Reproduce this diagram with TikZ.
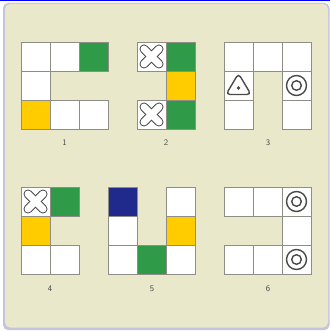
\documentclass[tikz,border=0pt]{standalone}
\usetikzlibrary{calc}
\definecolor{bgbeige}{HTML}{E9E8CB}
\definecolor{bglav}{HTML}{C8C2E2}
\definecolor{cgreen}{HTML}{2F9A48}
\definecolor{cyellow}{HTML}{FFCC00}
\definecolor{cblue}{HTML}{1F2A8C}
\definecolor{cborder}{HTML}{8E8E86}
\definecolor{iconc}{HTML}{4A4A4A}
\tikzset{
  cellbox/.style={draw=cborder, line width=0.8pt, fill=#1, minimum size=29pt,
    inner sep=0pt, outer sep=0pt, anchor=north west, rectangle},
  cellbox/.default=white,
  lbl/.style={font=\sffamily\fontsize{8.5}{9}\selectfont, text=black!70, inner sep=0pt},
  xout/.style={line width=9pt, line cap=round, draw=iconc},
  xin/.style={line width=7pt, line cap=round, draw=white},
  icon/.style={draw=iconc, line width=1.4pt}
}
\newcommand{\cellat}[4]{%
  \fill[black!25] (#2+1.2,#3+1.2) rectangle ++(29,29);
  \node[cellbox=#4] (#1) at (#2,#3) {};}
\newcommand{\xmark}[1]{%
  \draw[xout] ($(#1)+(-7.5,-7.5)$) -- ($(#1)+(7.5,7.5)$);
  \draw[xout] ($(#1)+(-7.5,7.5)$) -- ($(#1)+(7.5,-7.5)$);
  \draw[xin] ($(#1)+(-7.5,-7.5)$) -- ($(#1)+(7.5,7.5)$);
  \draw[xin] ($(#1)+(-7.5,7.5)$) -- ($(#1)+(7.5,-7.5)$);}
\newcommand{\target}[1]{%
  \draw[icon] (#1) circle (10);
  \draw[icon] (#1) circle (4.8);}
\begin{document}
\begin{tikzpicture}[x=1pt,y=-1pt]
\useasboundingbox (0,0) rectangle (330,331);
\fill[white] (0,0) rectangle (330,331);
\draw[blue, line width=1pt] (0,0.5) -- (330,0.5);
\fill[bglav, rounded corners=5pt] (3,3) rectangle (329.5,330);
\fill[bgbeige, rounded corners=5pt] (5,4) rectangle (328,327.5);
% panel 1
\cellat{a1}{21}{42}{white}
\cellat{a2}{50}{42}{white}
\cellat{a3}{79}{42}{cgreen}
\cellat{a4}{21}{71}{white}
\cellat{a5}{21}{100}{cyellow}
\cellat{a6}{50}{100}{white}
\cellat{a7}{79}{100}{white}
\node[lbl] (l1) at (64.5,143) {1};
% panel 2
\cellat{b1}{137}{42}{white}
\cellat{b2}{166}{42}{cgreen}
\cellat{b3}{166}{71}{cyellow}
\cellat{b4}{137}{100}{white}
\cellat{b5}{166}{100}{cgreen}
\xmark{b1.center}
\xmark{b4.center}
\node[lbl] (l2) at (166,143) {2};
% panel 3
\cellat{c1}{224}{42}{white}
\cellat{c2}{253}{42}{white}
\cellat{c3}{282}{42}{white}
\cellat{c4}{224}{71}{white}
\cellat{c5}{282}{71}{white}
\cellat{c6}{224}{100}{white}
\cellat{c7}{282}{100}{white}
\draw[icon, rounded corners=4pt] ($(c4.center)+(0,-12)$) -- ($(c4.center)+(12.5,9)$) -- ($(c4.center)+(-12.5,9)$) -- cycle;
\fill[iconc] ($(c4.center)+(0,2.5)$) circle (1.8);
\target{c5.center}
\node[lbl] (l3) at (268,143) {3};
% panel 4
\cellat{d1}{21}{187}{white}
\cellat{d2}{50}{187}{cgreen}
\cellat{d3}{21}{216}{cyellow}
\cellat{d4}{21}{245}{white}
\cellat{d5}{50}{245}{white}
\xmark{d1.center}
\node[lbl] (l4) at (50,289) {4};
% panel 5
\cellat{e1}{108}{187}{cblue}
\cellat{e2}{166}{187}{white}
\cellat{e3}{108}{216}{white}
\cellat{e4}{166}{216}{cyellow}
\cellat{e5}{108}{245}{white}
\cellat{e6}{137}{245}{cgreen}
\cellat{e7}{166}{245}{white}
\node[lbl] (l5) at (152,289) {5};
% panel 6
\cellat{f1}{224}{187}{white}
\cellat{f2}{253}{187}{white}
\cellat{f3}{282}{187}{white}
\cellat{f4}{282}{216}{white}
\cellat{f5}{224}{245}{white}
\cellat{f6}{253}{245}{white}
\cellat{f7}{282}{245}{white}
\target{f3.center}
\target{f7.center}
\node[lbl] (l6) at (268,289) {6};
\end{tikzpicture}
\end{document}
